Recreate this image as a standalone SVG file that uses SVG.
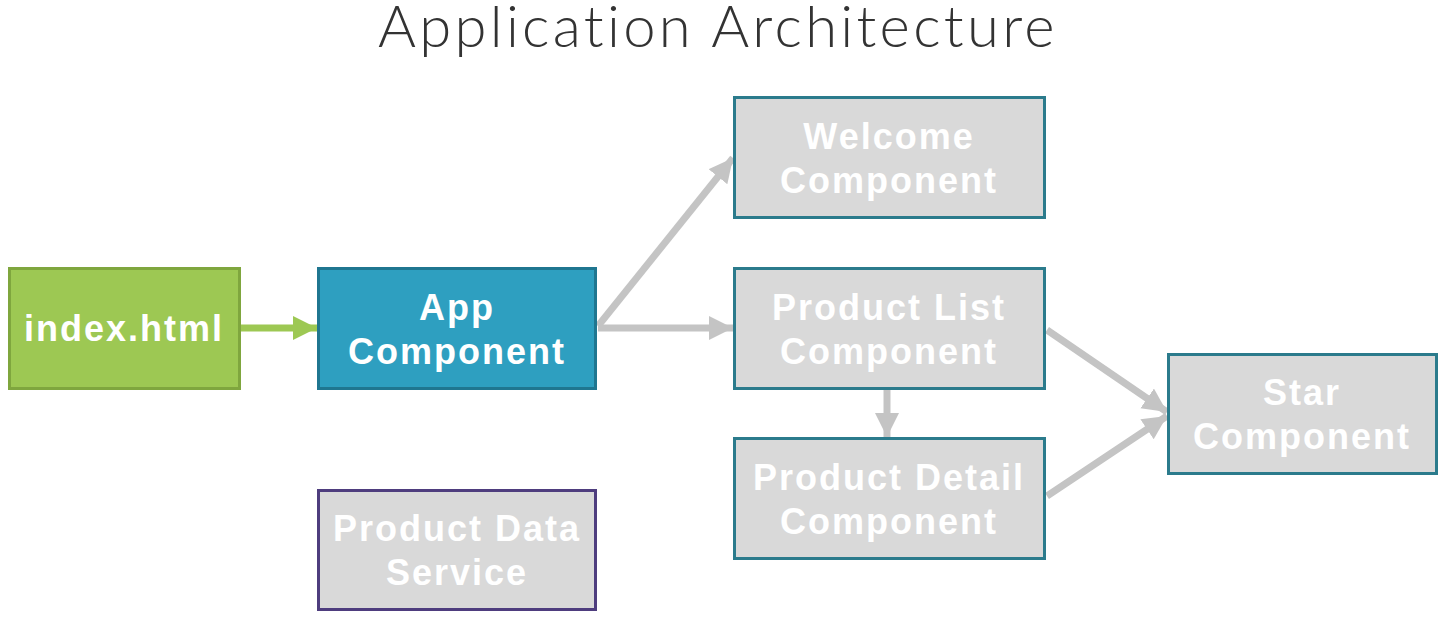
<svg xmlns="http://www.w3.org/2000/svg" width="1443" height="619" viewBox="0 0 1443 619">
<style>
.title{font-family:"Lato","Liberation Sans",sans-serif;font-weight:300;font-size:58px;fill:#333;letter-spacing:3.3px}
.lbl{font-family:"Liberation Sans",Arial,sans-serif;font-weight:bold;font-size:36px;fill:#fff;text-anchor:middle;letter-spacing:2px}
.gbox{fill:#d9d9d9;stroke:#2b7b8c;stroke-width:3}
.conn{stroke:#c4c4c4;stroke-width:7;fill:none}
</style>
<defs>
<marker id="ag" markerUnits="userSpaceOnUse" markerWidth="26" markerHeight="26" refX="24" refY="12" orient="auto"><path d="M0,0 L24,12 L0,24 Z" fill="#c4c4c4"/></marker>
<marker id="agreen" markerUnits="userSpaceOnUse" markerWidth="26" markerHeight="26" refX="24" refY="12" orient="auto"><path d="M0,0 L24,12 L0,24 Z" fill="#9dc853"/></marker>
</defs>
<text class="title" x="718" y="47" text-anchor="middle">Application Architecture</text>
<g id="connectors">
<line x1="241" y1="328" x2="317" y2="328" stroke="#9dc853" stroke-width="7" marker-end="url(#agreen)"/>
<line class="conn" x1="598" y1="326" x2="733" y2="158" marker-end="url(#ag)"/>
<line class="conn" x1="598" y1="328" x2="733" y2="328" marker-end="url(#ag)"/>
<line class="conn" x1="887" y1="390" x2="887" y2="437" marker-end="url(#ag)"/>
<line class="conn" x1="1047" y1="330" x2="1167" y2="412" marker-end="url(#ag)"/>
<line class="conn" x1="1047" y1="496" x2="1167" y2="416" marker-end="url(#ag)"/>
</g>
<g id="index">
<rect x="9.5" y="268.5" width="230" height="120" fill="#9dc853" stroke="#7fa63e" stroke-width="3"/>
<text class="lbl" x="124" y="341">index.html</text>
</g>
<g id="app">
<rect x="318.5" y="268.5" width="277" height="120" fill="#2e9fc0" stroke="#1f7690" stroke-width="3"/>
<text class="lbl" x="457" y="320">App</text>
<text class="lbl" x="457" y="364">Component</text>
</g>
<g id="welcome">
<rect class="gbox" x="734.5" y="97.5" width="310" height="120"/>
<text class="lbl" x="889" y="149">Welcome</text>
<text class="lbl" x="889" y="193">Component</text>
</g>
<g id="productlist">
<rect class="gbox" x="734.5" y="268.5" width="310" height="120"/>
<text class="lbl" x="889" y="320">Product List</text>
<text class="lbl" x="889" y="364">Component</text>
</g>
<g id="productdetail">
<rect class="gbox" x="734.5" y="438.5" width="310" height="120"/>
<text class="lbl" x="889" y="490">Product Detail</text>
<text class="lbl" x="889" y="534">Component</text>
</g>
<g id="star">
<rect class="gbox" x="1168.5" y="354.5" width="268" height="119"/>
<text class="lbl" x="1302" y="405">Star</text>
<text class="lbl" x="1302" y="449">Component</text>
</g>
<g id="dataservice">
<rect x="318.5" y="490.5" width="277" height="119" fill="#d9d9d9" stroke="#4e3d7e" stroke-width="3"/>
<text class="lbl" x="457" y="541">Product Data</text>
<text class="lbl" x="457" y="585">Service</text>
</g>
</svg>
